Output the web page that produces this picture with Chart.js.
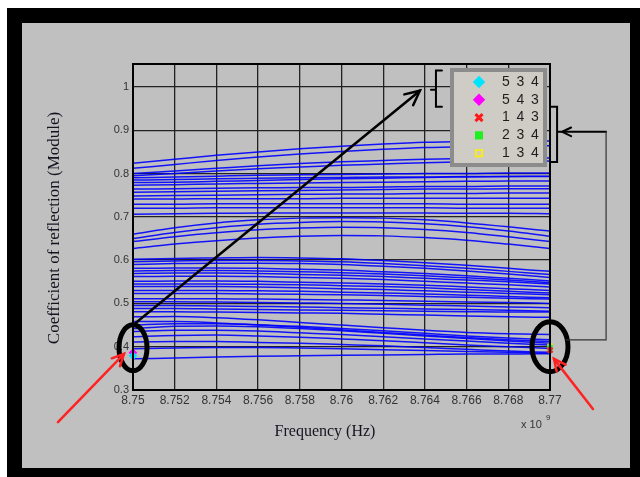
<!DOCTYPE html>
<html lang="en">
<head>
<meta charset="UTF-8">
<title>Coefficient of reflection vs frequency</title>
<script src="https://cdn.jsdelivr.net/npm/chart.js"></script>
<style>
  html, body { margin: 0; padding: 0; background: #fff; }
  #frame { position: absolute; left: 7px; top: 8px; width: 608px; height: 445px;
           background: #c0c0c0; border-style: solid; border-color: #000;
           border-width: 15px 10px 9px 15px; }
  #chart { position: absolute; left: 0; top: 0; }
</style>
</head>
<body>
<div id="frame"></div>
<canvas id="chart" width="640" height="477"></canvas>
<script>
// frequency in units of 1e9 Hz (axis shows "x 10^9")
const freq = [8.750, 8.752, 8.754, 8.756, 8.758, 8.760, 8.762, 8.764, 8.766, 8.768, 8.770];
const xTicks = [8.750, 8.752, 8.754, 8.756, 8.758, 8.760, 8.762, 8.764, 8.766, 8.768, 8.770];
const xTickLabels = ['8.75', '8.752', '8.754', '8.756', '8.758', '8.76', '8.762', '8.764', '8.766', '8.768', '8.77'];
const yTicks = [0.3, 0.4, 0.5, 0.6, 0.7, 0.8, 0.9, 1.0];
const yTickLabels = ['0.3', '0.4', '0.5', '0.6', '0.7', '0.8', '0.9', '1'];

// reflection modulus curves, one value per frequency above
const upperCurves = [
  [0.824, 0.833, 0.842, 0.850, 0.857, 0.863, 0.868, 0.872, 0.874, 0.875, 0.875],
  [0.812, 0.821, 0.830, 0.838, 0.845, 0.851, 0.856, 0.860, 0.862, 0.863, 0.864],
  [0.800, 0.806, 0.812, 0.818, 0.823, 0.827, 0.830, 0.833, 0.835, 0.836, 0.836],
  [0.795, 0.800, 0.806, 0.811, 0.815, 0.819, 0.822, 0.825, 0.827, 0.828, 0.829],
  [0.790, 0.792, 0.794, 0.796, 0.797, 0.798, 0.799, 0.800, 0.800, 0.801, 0.801],
  [0.785, 0.786, 0.788, 0.789, 0.790, 0.791, 0.792, 0.792, 0.793, 0.793, 0.793],
  [0.779, 0.780, 0.782, 0.784, 0.786, 0.788, 0.789, 0.791, 0.792, 0.793, 0.794],
  [0.773, 0.774, 0.776, 0.777, 0.778, 0.779, 0.780, 0.781, 0.782, 0.783, 0.783],
  [0.764, 0.765, 0.766, 0.767, 0.768, 0.768, 0.769, 0.770, 0.770, 0.771, 0.771],
  [0.757, 0.758, 0.759, 0.760, 0.761, 0.762, 0.763, 0.764, 0.764, 0.765, 0.765],
  [0.748, 0.749, 0.750, 0.751, 0.752, 0.753, 0.753, 0.754, 0.754, 0.755, 0.755],
  [0.741, 0.741, 0.742, 0.742, 0.742, 0.743, 0.743, 0.743, 0.743, 0.743, 0.743],
  [0.729, 0.729, 0.730, 0.730, 0.730, 0.730, 0.730, 0.730, 0.729, 0.729, 0.729],
  [0.720, 0.720, 0.721, 0.721, 0.721, 0.721, 0.721, 0.721, 0.720, 0.720, 0.720],
  [0.706, 0.707, 0.708, 0.709, 0.709, 0.709, 0.709, 0.709, 0.708, 0.708, 0.707]
];
const archCurves = [
  [0.660, 0.675, 0.686, 0.693, 0.697, 0.698, 0.697, 0.693, 0.686, 0.677, 0.667],
  [0.650, 0.664, 0.675, 0.683, 0.687, 0.689, 0.688, 0.684, 0.677, 0.667, 0.655],
  [0.643, 0.654, 0.663, 0.670, 0.674, 0.676, 0.675, 0.671, 0.664, 0.654, 0.643],
  [0.627, 0.637, 0.645, 0.651, 0.655, 0.657, 0.656, 0.652, 0.646, 0.637, 0.627],
  [0.602, 0.604, 0.605, 0.606, 0.605, 0.603, 0.599, 0.594, 0.588, 0.581, 0.574],
  [0.596, 0.598, 0.599, 0.599, 0.598, 0.596, 0.592, 0.587, 0.581, 0.574, 0.567],
  [0.590, 0.592, 0.593, 0.593, 0.592, 0.590, 0.586, 0.581, 0.575, 0.568, 0.560]
];
const middleCurves = [
  [0.581, 0.582, 0.582, 0.581, 0.579, 0.577, 0.573, 0.569, 0.564, 0.558, 0.552],
  [0.575, 0.576, 0.576, 0.575, 0.573, 0.571, 0.568, 0.564, 0.559, 0.554, 0.548],
  [0.569, 0.570, 0.570, 0.569, 0.567, 0.565, 0.562, 0.558, 0.554, 0.550, 0.545],
  [0.562, 0.563, 0.563, 0.562, 0.560, 0.558, 0.555, 0.551, 0.547, 0.543, 0.538],
  [0.551, 0.552, 0.552, 0.551, 0.549, 0.547, 0.545, 0.542, 0.538, 0.534, 0.530],
  [0.545, 0.545, 0.545, 0.544, 0.543, 0.541, 0.539, 0.536, 0.532, 0.528, 0.524],
  [0.539, 0.539, 0.539, 0.538, 0.536, 0.534, 0.532, 0.529, 0.526, 0.523, 0.520],
  [0.530, 0.530, 0.530, 0.529, 0.528, 0.526, 0.524, 0.522, 0.519, 0.516, 0.513],
  [0.523, 0.523, 0.523, 0.522, 0.521, 0.520, 0.518, 0.516, 0.514, 0.512, 0.510],
  [0.511, 0.511, 0.511, 0.510, 0.509, 0.508, 0.507, 0.505, 0.503, 0.502, 0.500],
  [0.504, 0.504, 0.503, 0.502, 0.501, 0.500, 0.498, 0.496, 0.494, 0.492, 0.490],
  [0.495, 0.495, 0.494, 0.493, 0.492, 0.490, 0.489, 0.487, 0.486, 0.484, 0.482],
  [0.488, 0.488, 0.487, 0.486, 0.485, 0.484, 0.483, 0.482, 0.481, 0.480, 0.480],
  [0.481, 0.481, 0.480, 0.479, 0.478, 0.477, 0.475, 0.473, 0.471, 0.469, 0.468]
];
const lowerCurves = [
  [0.469, 0.470, 0.467, 0.462, 0.456, 0.450, 0.444, 0.438, 0.433, 0.430, 0.428],
  [0.458, 0.458, 0.455, 0.450, 0.445, 0.439, 0.433, 0.427, 0.421, 0.416, 0.412],
  [0.450, 0.453, 0.453, 0.451, 0.447, 0.442, 0.437, 0.431, 0.425, 0.420, 0.416],
  [0.442, 0.447, 0.448, 0.446, 0.442, 0.437, 0.431, 0.425, 0.419, 0.413, 0.408],
  [0.435, 0.438, 0.438, 0.436, 0.432, 0.428, 0.423, 0.418, 0.413, 0.408, 0.404],
  [0.423, 0.426, 0.427, 0.425, 0.422, 0.418, 0.414, 0.409, 0.404, 0.400, 0.396],
  [0.411, 0.412, 0.412, 0.410, 0.408, 0.405, 0.402, 0.398, 0.394, 0.390, 0.387],
  [0.395, 0.397, 0.398, 0.398, 0.397, 0.395, 0.393, 0.391, 0.389, 0.387, 0.385],
  [0.372, 0.374, 0.376, 0.378, 0.379, 0.380, 0.381, 0.382, 0.383, 0.383, 0.384]
];

// highlighted configurations (legend entries)
const markerLabels = ['5 3 4', '5 4 3', '1 4 3', '2 3 4', '1 3 4'];
const markerFreq = [8.750, 8.750, 8.770, 8.770, 8.770];
const markerValues = [0.379, 0.386, 0.392, 0.398, 0.401];
const markerColors = ['#00e5ff', '#ff00ff', '#ff1a1a', '#22ee22', '#ffee00'];
const markerShapes = ['rectRot', 'rectRot', 'crossRot', 'rect', 'rect'];
const markerFilled = [true, true, true, true, false];

// annotation anchors in data units (frequency, modulus)
const notes = {
  leftRing: [8.750, 0.3975],
  rightRing: [8.770, 0.400],
  longArrow: [[8.75014, 0.4555], [8.76376, 0.9914]],
  leftBracket: { f: 8.76453, top: 1.0378, bottom: 0.9543, mid: 0.9937 },
  rightBracket: { f: 8.77034, top: 0.9543, bottom: 0.8267, mid: 0.8963 },
  link: [[8.77058, 0.8963], [8.77269, 0.8963], [8.77269, 0.416], [8.77077, 0.416]],
  redLeft: [[8.7464, 0.2258], [8.74957, 0.3835]],
  redRight: [[8.77206, 0.2559], [8.77019, 0.3719]]
};

const markerSets = markerLabels.map((label, i) => ({
  label: label,
  data: [{ x: markerFreq[i], y: markerValues[i] }],
  showLine: false,
  pointStyle: markerShapes[i],
  pointRadius: markerShapes[i] === 'rect' ? 3 : 3.5,
  pointBorderWidth: markerShapes[i] === 'crossRot' ? 2.5 : 1.2,
  pointBackgroundColor: markerFilled[i] ? markerColors[i] : 'rgba(0,0,0,0)',
  pointBorderColor: markerColors[i],
  clip: false,
  isMarker: true
}));

const curveSets = [...upperCurves, ...archCurves, ...middleCurves, ...lowerCurves].map(vals => ({
  data: vals.map((v, i) => ({ x: freq[i], y: v })),
  borderColor: 'rgba(0, 0, 255, 0.9)',
  borderWidth: 1.5,
  pointRadius: 0,
  cubicInterpolationMode: 'monotone',
  fill: false
}));

function arrow(ctx, x1, y1, x2, y2, head) {
  ctx.beginPath();
  ctx.moveTo(x1, y1);
  ctx.lineTo(x2, y2);
  ctx.stroke();
  const ang = Math.atan2(y2 - y1, x2 - x1);
  ctx.beginPath();
  ctx.moveTo(x2 - head * Math.cos(ang - 0.45), y2 - head * Math.sin(ang - 0.45));
  ctx.lineTo(x2, y2);
  ctx.lineTo(x2 - head * Math.cos(ang + 0.45), y2 - head * Math.sin(ang + 0.45));
  ctx.stroke();
}

const decorations = {
  id: 'decorations',
  afterDatasetsDraw(chart) {
    const { ctx, chartArea: a } = chart;
    ctx.save();
    ctx.strokeStyle = '#000';
    ctx.lineWidth = 2;
    ctx.strokeRect(a.left, a.top, a.right - a.left, a.bottom - a.top);
    ctx.restore();
  },
  afterDraw(chart) {
    const { ctx, chartArea: a, scales } = chart;
    const px = (f, v) => [scales.x.getPixelForValue(f), scales.y.getPixelForValue(v)];
    ctx.save();

    // axis titles
    ctx.fillStyle = '#141420';
    ctx.font = '16px "Liberation Serif"';
    ctx.textAlign = 'center';
    ctx.textBaseline = 'middle';
    ctx.fillText('Frequency (Hz)', 325, 432);
    ctx.save();
    ctx.translate(55, 228);
    ctx.rotate(-Math.PI / 2);
    ctx.font = '17px "Liberation Serif"';
    ctx.fillText('Coefficient of reflection (Module)', 0, 0);
    ctx.restore();

    // exponent
    ctx.fillStyle = '#333';
    ctx.textAlign = 'left';
    ctx.textBaseline = 'alphabetic';
    ctx.font = '11px "Liberation Sans"';
    ctx.fillText('x 10', a.right - 29, a.bottom + 38);
    ctx.font = '8px "Liberation Sans"';
    ctx.fillText('9', a.right - 4, a.bottom + 30);

    // legend box
    const lx = a.right - 100, ly = a.top + 4, lw = 97, lh = 99;
    ctx.fillStyle = '#8c8c8c';
    ctx.fillRect(lx, ly, lw, lh);
    ctx.fillStyle = '#cfccc5';
    ctx.fillRect(lx + 4, ly + 4, lw - 8, lh - 8);
    ctx.font = '14px "Liberation Sans"';
    ctx.textAlign = 'center';
    ctx.textBaseline = 'middle';
    chart.data.datasets.filter(d => d.isMarker).forEach((d, i) => {
      const y = ly + 14 + i * 17.8;
      ctx.fillStyle = d.pointBackgroundColor;
      ctx.strokeStyle = d.pointBorderColor;
      ctx.lineWidth = d.pointBorderWidth + 0.5;
      Chart.helpers.drawPoint(ctx, { pointStyle: d.pointStyle, radius: d.pointRadius + 1.5, rotation: 0, borderWidth: d.pointBorderWidth + 0.5 }, lx + 29, y);
      ctx.fillStyle = '#1e1e1e';
      d.label.split(' ').forEach((ch, k) => ctx.fillText(ch, lx + 56 + k * 14.5, y));
    });

    // black annotations
    ctx.strokeStyle = '#000';
    ctx.lineCap = 'round';
    ctx.lineWidth = 5;
    [[notes.leftRing, 14, 23], [notes.rightRing, 18, 25]].forEach(([c, rx, ry]) => {
      const [cx, cy] = px(c[0], c[1]);
      ctx.beginPath();
      ctx.ellipse(cx, cy, rx, ry, 0, 0, Math.PI * 2);
      ctx.stroke();
    });
    ctx.lineWidth = 2.5;
    const [s0, s1] = notes.longArrow.map(p => px(p[0], p[1]));
    arrow(ctx, s0[0], s0[1], s1[0], s1[1], 16);

    ctx.lineWidth = 2;
    const lb = notes.leftBracket;
    const [lbx, lbt] = px(lb.f, lb.top);
    const lbb = scales.y.getPixelForValue(lb.bottom), lbm = scales.y.getPixelForValue(lb.mid);
    ctx.beginPath();
    ctx.moveTo(lbx + 6, lbt); ctx.lineTo(lbx, lbt); ctx.lineTo(lbx, lbb); ctx.lineTo(lbx + 6, lbb);
    ctx.moveTo(lbx, lbm); ctx.lineTo(lbx - 5, lbm);
    ctx.stroke();

    const rb = notes.rightBracket;
    const [rbx, rbt] = px(rb.f, rb.top);
    const rbb = scales.y.getPixelForValue(rb.bottom), rbm = scales.y.getPixelForValue(rb.mid);
    ctx.beginPath();
    ctx.moveTo(rbx - 6, rbt); ctx.lineTo(rbx, rbt); ctx.lineTo(rbx, rbb); ctx.lineTo(rbx - 6, rbb);
    ctx.moveTo(rbx, rbm); ctx.lineTo(rbx + 4, rbm);
    ctx.stroke();

    const lk = notes.link.map(p => px(p[0], p[1]));
    ctx.lineWidth = 2;
    arrow(ctx, lk[1][0], lk[1][1], lk[0][0], lk[0][1], 10);
    ctx.lineWidth = 1.2;
    ctx.strokeStyle = '#333';
    ctx.beginPath();
    ctx.moveTo(lk[1][0], lk[1][1]);
    ctx.lineTo(lk[2][0], lk[2][1]);
    ctx.lineTo(lk[3][0], lk[3][1]);
    ctx.stroke();

    // red arrows
    ctx.strokeStyle = '#ff2222';
    ctx.lineWidth = 2.5;
    [notes.redLeft, notes.redRight].forEach(seg => {
      const [p0, p1] = seg.map(p => px(p[0], p[1]));
      arrow(ctx, p0[0], p0[1], p1[0], p1[1], 13);
    });
    ctx.restore();
  }
};

const ctx = document.getElementById('chart').getContext('2d');
new Chart(ctx, {
  type: 'line',
  data: { datasets: [...markerSets, ...curveSets] },
  options: {
    responsive: false,
    animation: false,
    events: [],
    layout: { padding: { left: 0, top: 64, right: 90, bottom: 47 } },
    plugins: { legend: { display: false }, tooltip: { enabled: false } },
    scales: {
      x: {
        type: 'linear',
        min: 8.75,
        max: 8.77,
        afterBuildTicks: s => { s.ticks = xTicks.map(v => ({ value: v })); },
        afterFit: s => { s.height = 40; },
        ticks: {
          autoSkip: false,
          maxRotation: 0,
          padding: 3,
          color: '#333',
          font: { family: 'Liberation Sans', size: 12 },
          callback: (v, i) => xTickLabels[i]
        },
        grid: { color: '#222', lineWidth: 1.3, drawTicks: false },
        border: { display: false }
      },
      y: {
        type: 'linear',
        min: 0.3,
        max: 1.053,
        afterBuildTicks: s => { s.ticks = yTicks.map(v => ({ value: v })); },
        afterFit: s => { s.width = 133; },
        ticks: {
          autoSkip: false,
          padding: 4,
          color: '#333',
          font: { family: 'Liberation Sans', size: 11 },
          callback: (v, i) => yTickLabels[i]
        },
        grid: { color: '#222', lineWidth: 1.3, drawTicks: false },
        border: { display: false }
      }
    }
  },
  plugins: [decorations]
});
</script>
</body>
</html>
